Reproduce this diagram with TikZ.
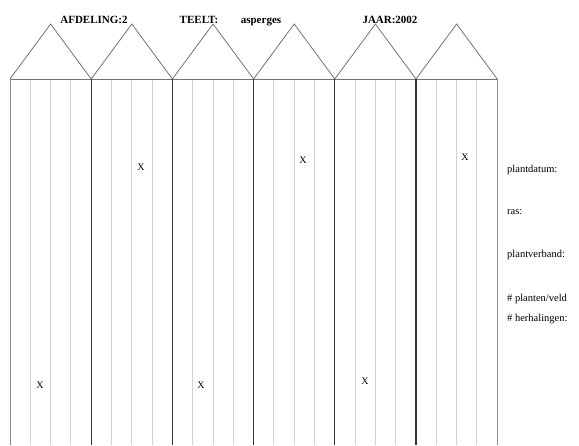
\documentclass[tikz,border=0pt]{standalone}
\usepackage{fontspec}
\setmainfont{Liberation Serif}
\usetikzlibrary{positioning}
\tikzset{
  strip_line/.style = {draw=black!18, line width=0.9pt},% lijn tussen de rijen
  bay_line/.style = {draw=black!80, line width=1.2pt},% grens tussen de kappen
  side_line/.style = {draw=black!45, line width=1pt},% buitenkant
  roof_line/.style = {draw=black!55, line width=0.8pt},% dak
  head_node/.style = {inner sep=0pt, anchor=base, font=\fontsize{11}{13}\selectfont\bfseries},
  info_node/.style = {inner sep=0pt, anchor=base west, font=\fontsize{10.5}{12}\selectfont},
  mark_node/.style = {inner sep=0pt, font=\fontsize{10}{12}\selectfont}
}
\begin{document}
\begin{tikzpicture}[x=1pt, y=-1pt]
  \useasboundingbox (0,0) rectangle (579,445);
  % kappen en rijen
  \foreach \i in {0,...,5} {
    \pgfmathsetmacro{\left}{10+81.2*\i}
    \foreach \k in {1,2,3}
      \draw[strip_line] (\left+20.3*\k,79) -- (\left+20.3*\k,445);
    \draw[roof_line] (\left,79) -- (\left+40.6,24) -- (\left+81.2,79);
  }
  \draw[roof_line] (10,79) -- (497,79);
  \foreach \i in {1,...,5}
    \draw[bay_line] (10+81.2*\i,79) -- (10+81.2*\i,445);
  \draw[side_line] (10,79) -- (10,445);
  \draw[side_line] (497,79) -- (497,445);
  % kop
  \node[head_node] (afdeling) at (94,23) {AFDELING:2};
  \node[head_node] (teelt) at (199,23) {TEELT:};
  \node[head_node] (gewas) at (261,23) {asperges};
  \node[head_node] (jaar) at (390,23) {JAAR:2002};
  % velden
  \node[mark_node] (x1) at (141,167) {X};
  \node[mark_node] (x2) at (303,160) {X};
  \node[mark_node] (x3) at (465,157) {X};
  \node[mark_node] (x4) at (40,385) {X};
  \node[mark_node] (x5) at (201,385) {X};
  \node[mark_node] (x6) at (365,381) {X};
  % gegevens
  \node[info_node] (datum) at (507,172) {plantdatum:};
  \node[info_node] (ras) at (507,214) {ras:};
  \node[info_node] (verband) at (507,257) {plantverband:};
  \node[info_node] (planten) at (507,301) {\# planten/veld};
  \node[info_node] (herhaling) at (507,321) {\# herhalingen:};
\end{tikzpicture}
\end{document}
